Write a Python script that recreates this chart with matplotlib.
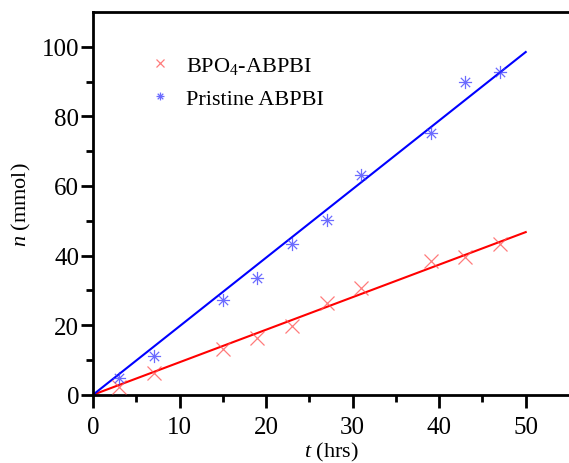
import numpy as np
import matplotlib
matplotlib.use("Agg")
import matplotlib.pyplot as plt
from matplotlib.path import Path

t = [3, 7, 15, 19, 23, 27, 31, 39, 43, 47]
n_bpo4 = [2.2, 6.2, 13.2, 16.3, 19.9, 26.4, 30.7, 38.4, 39.6, 43.2]
n_pristine = [4.8, 11.2, 27.1, 33.6, 43.2, 50.1, 63.1, 75.1, 89.8, 92.9]
slope_bpo4 = 0.935
slope_pristine = 1.97
fit_t = [0, 50]
labels = ["BPO$_4$-ABPBI", "Pristine ABPBI"]

plt.rcParams['font.family'] = ['Liberation Serif', 'DejaVu Serif']
plt.rcParams['mathtext.fontset'] = 'custom'
plt.rcParams['mathtext.rm'] = 'Liberation Serif'
plt.rcParams['mathtext.it'] = 'Liberation Serif:italic'

# asterisk-like marker (8 spokes)
verts, codes = [], []
for ang in [0, 45, 90, 135]:
    a = np.deg2rad(ang)
    verts += [(-np.cos(a), -np.sin(a)), (np.cos(a), np.sin(a))]
    codes += [Path.MOVETO, Path.LINETO]
star = Path(verts, codes)

fig = plt.figure(figsize=(5.69, 4.64), dpi=100)
ax = fig.add_axes([0.1634, 0.147, 0.8366, 0.825])

ft = np.array(fit_t, dtype=float)
ax.plot(ft, slope_bpo4 * ft, color='#ff0000', lw=1.5, zorder=2)
ax.plot(ft, slope_pristine * ft, color='#0000ff', lw=1.5, zorder=2)
ax.plot(t, n_bpo4, ls='none', marker='x', ms=9.5, mew=0.9, color='#ff5050',
        alpha=0.75, label=labels[0], zorder=3)
ax.plot(t, n_pristine, ls='none', marker=star, ms=9.5, mew=0.9, mfc='none',
        color='#3a3aff', alpha=0.75, label=labels[1], zorder=3)

ax.set_xlim(0, 55)
ax.set_ylim(0, 110)
ax.set_xticks([0, 10, 20, 30, 40, 50])
ax.set_xticks([5, 15, 25, 35, 45], minor=True)
ax.set_yticks([0, 20, 40, 60, 80, 100])
ax.set_yticks([10, 30, 50, 70, 90], minor=True)
for s in ['left', 'bottom', 'top']:
    ax.spines[s].set_linewidth(2)
ax.spines['right'].set_visible(False)
ax.tick_params(which='major', direction='out', length=9, width=2,
               labelsize=18, top=False, right=False)
ax.tick_params(axis='y', which='major', pad=1)
ax.tick_params(axis='x', which='major', pad=6)
ax.tick_params(which='minor', direction='out', length=5, width=2,
               top=False, right=False)
ax.set_xlabel('$\\mathit{t}$ (hrs)', fontsize=16, labelpad=1.5)
ax.set_ylabel('$\\mathit{n}$ (mmol)', fontsize=16, labelpad=6)

leg = ax.legend(loc='upper left', bbox_to_anchor=(0.075, 0.94), frameon=False,
                fontsize=16, markerscale=0.6, handlelength=1.0,
                handletextpad=0.7, labelspacing=0.55)

fig.savefig('out.png', dpi=100)
